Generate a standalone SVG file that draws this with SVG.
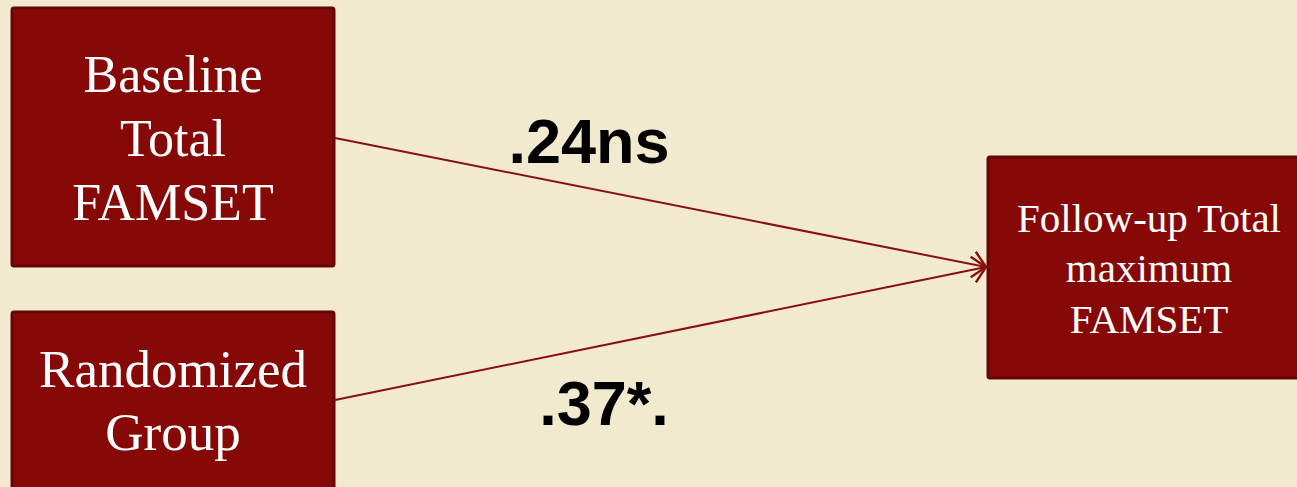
<svg xmlns="http://www.w3.org/2000/svg" width="1297" height="487" viewBox="0 0 1297 487">
<style>
.box{fill:#860908;stroke:#690404;stroke-width:3}
.t{font-family:"Liberation Serif","DejaVu Serif",serif;fill:#ffffff;text-anchor:middle}
.lbl{font-family:"Liberation Sans",Arial,sans-serif;font-weight:bold;font-size:63px;fill:#000;text-anchor:middle}
.con{stroke:#8a0f0f;stroke-width:2;fill:none}
</style>
<defs>
<marker id="arr" markerWidth="20" markerHeight="32" refX="16" refY="16" orient="auto" markerUnits="userSpaceOnUse">
<path d="M3,3 L16,16 L3,29" fill="none" stroke="#8a0f0f" stroke-width="2.4"/>
</marker>
</defs>
<rect width="1297" height="487" fill="#f2eacf"/>
<g id="connectors">
<line class="con" x1="335" y1="138" x2="986" y2="267" marker-end="url(#arr)"/>
<line class="con" x1="335" y1="400" x2="986" y2="267" marker-end="url(#arr)"/>
</g>
<g id="baseline">
<rect class="box" x="12" y="8" width="322" height="258" rx="2"/>
<text class="t" font-size="52"><tspan x="173" y="92">Baseline</tspan><tspan x="173" y="156">Total</tspan><tspan x="173" y="220">FAMSET</tspan></text>
</g>
<g id="randomized">
<rect class="box" x="12" y="312" width="322" height="190" rx="2"/>
<text class="t" font-size="53"><tspan x="173" y="387">Randomized</tspan><tspan x="173" y="450">Group</tspan></text>
</g>
<g id="followup">
<rect class="box" x="988" y="157" width="320" height="221" rx="2"/>
<text class="t" font-size="41"><tspan x="1149" y="232">Follow-up Total</tspan><tspan x="1149" y="282">maximum</tspan><tspan x="1149" y="333">FAMSET</tspan></text>
</g>
<g id="labels">
<text class="lbl" x="589" y="163">.24ns</text>
<text class="lbl" x="604" y="425">.37*.</text>
</g>
</svg>
